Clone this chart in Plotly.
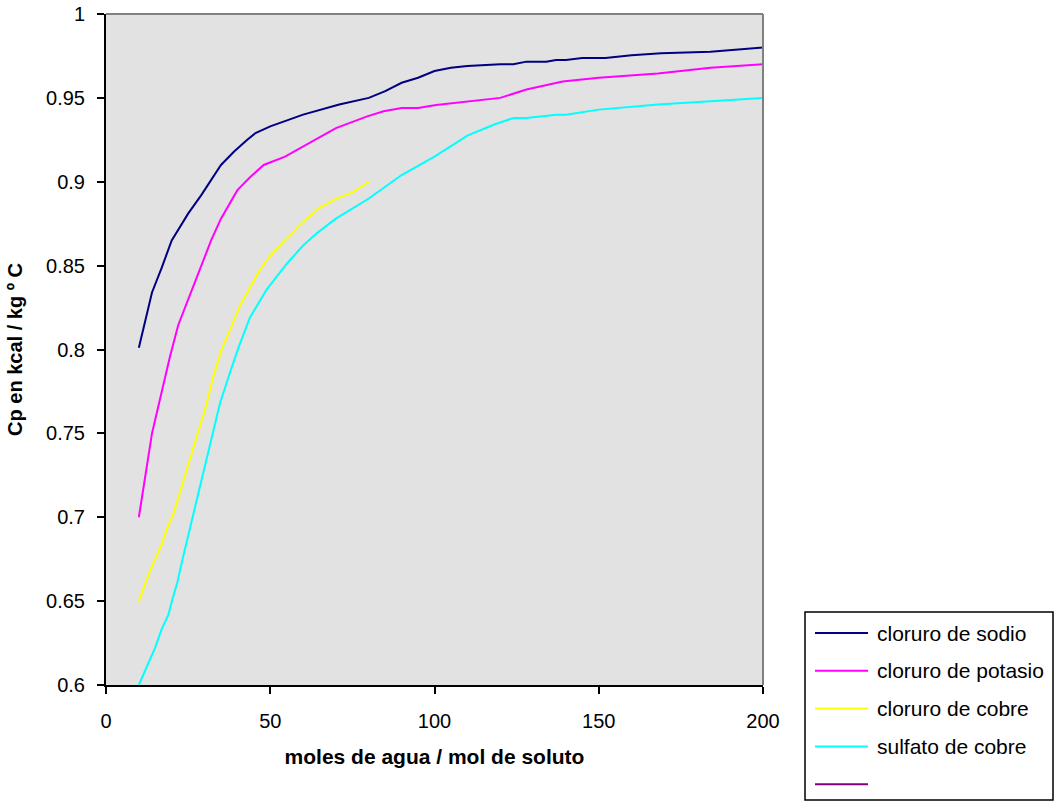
import plotly.graph_objects as go

# Moles of water per mole of solute (x) and heat capacity Cp in kcal/kg ºC (y)
sodio_x = [10, 12, 14, 17, 20, 25, 29, 35, 39, 43, 45.5, 50, 60, 71, 80, 85, 90, 95,
           100, 105, 110, 120, 124, 128, 134, 137, 140, 145, 152, 160, 169, 184, 200]
sodio_y = [0.801, 0.817, 0.834, 0.849, 0.865, 0.881, 0.892, 0.910, 0.918, 0.925, 0.929,
           0.933, 0.940, 0.946, 0.950, 0.954, 0.959, 0.962, 0.966, 0.968, 0.969, 0.970,
           0.970, 0.9716, 0.9716, 0.9726, 0.9726, 0.9738, 0.9738, 0.9754, 0.9766, 0.9775, 0.980]

potasio_x = [10, 12, 14, 16.4, 19.5, 22, 25.6, 29, 32, 35, 40, 44, 48, 54.5, 60, 70, 79.5,
             84.5, 90, 95, 100.5, 110, 120, 128, 139, 150, 168, 184, 200]
potasio_y = [0.700, 0.724, 0.750, 0.770, 0.796, 0.8146, 0.8325, 0.849, 0.865, 0.878, 0.895,
             0.903, 0.910, 0.915, 0.921, 0.932, 0.939, 0.942, 0.944, 0.944, 0.9458, 0.9477,
             0.950, 0.955, 0.9597, 0.962, 0.9646, 0.968, 0.970]

cloruro_cobre_x = [10, 13.4, 17, 18.5, 20.7, 25, 27.6, 30, 32.7, 35, 38, 41, 47, 50, 55, 59,
                   64.6, 69.7, 75.3, 80]
cloruro_cobre_y = [0.650, 0.668, 0.684, 0.693, 0.703, 0.732, 0.748, 0.763, 0.784, 0.799,
                   0.813, 0.827, 0.848, 0.856, 0.866, 0.874, 0.884, 0.8895, 0.894, 0.900]

sulfato_cobre_x = [10, 12.4, 14.9, 16.9, 19, 20.5, 21.7, 23.3, 25.6, 28, 30.4, 32.7, 34.7,
                   37.7, 40.3, 43.8, 49, 55, 60, 64.6, 70, 80, 90, 100, 110, 118, 124, 128,
                   133, 137, 140, 150, 168, 184, 200]
sulfato_cobre_y = [0.600, 0.611, 0.622, 0.633, 0.642, 0.653, 0.661, 0.675, 0.694, 0.712,
                   0.732, 0.752, 0.768, 0.786, 0.801, 0.819, 0.836, 0.851, 0.862, 0.870,
                   0.878, 0.890, 0.904, 0.915, 0.9275, 0.934, 0.938, 0.938, 0.939, 0.940,
                   0.940, 0.943, 0.946, 0.948, 0.950]

series_names = ["cloruro de sodio", "cloruro de potasio", "cloruro de cobre",
                "sulfato de cobre", ""]
series_colors = ["#000080", "#FF00FF", "#FFFF00", "#00FFFF", "#800080"]
series_x = [sodio_x, potasio_x, cloruro_cobre_x, sulfato_cobre_x, []]
series_y = [sodio_y, potasio_y, cloruro_cobre_y, sulfato_cobre_y, []]

x_range = [0, 200]
y_range = [0.6, 1.0]
x_title = "moles de agua / mol de soluto"
y_title = "Cp en kcal / kg º C"

FONT = "Liberation Sans, Arial, sans-serif"

# Page layout in pixels
W, H = 1057, 803
ML, MR, MT, MB = 106, 294, 14, 118
PW, PH = W - ML - MR, H - MT - MB


def paper_x(px):
    return (px - ML) / PW


def paper_y(py):
    return (H - MB - py) / PH


fig = go.Figure()
for name, color, xs, ys in zip(series_names, series_colors, series_x, series_y):
    fig.add_trace(go.Scatter(x=xs, y=ys, mode="lines", name=name,
                             line=dict(color=color, width=2), showlegend=False))

# Grey frame on the top and right of the plotting area
shapes = [
    dict(type="line", xref="paper", yref="paper", x0=0, x1=1, y0=1, y1=1,
         line=dict(color="#808080", width=2), layer="above"),
    dict(type="line", xref="paper", yref="paper", x0=1, x1=1, y0=0, y1=1,
         line=dict(color="#808080", width=2), layer="above"),
]

# Legend box with one row per series
box_l, box_r, box_t, box_b = 805, 1053, 612, 800
shapes.append(dict(type="rect", xref="paper", yref="paper",
                   x0=paper_x(box_l), x1=paper_x(box_r),
                   y0=paper_y(box_b), y1=paper_y(box_t),
                   line=dict(color="black", width=1.5), fillcolor="white", layer="above"))
annotations = []
row0, row_step = 633, 37.8
for i, (name, color) in enumerate(zip(series_names, series_colors)):
    ry = row0 + i * row_step
    shapes.append(dict(type="line", xref="paper", yref="paper",
                       x0=paper_x(815), x1=paper_x(868),
                       y0=paper_y(ry), y1=paper_y(ry),
                       line=dict(color=color, width=2), layer="above"))
    if name:
        annotations.append(dict(xref="paper", yref="paper", x=paper_x(875), y=paper_y(ry),
                                xanchor="left", yanchor="middle", text=name,
                                showarrow=False, font=dict(family=FONT, size=21, color="black")))

fig.update_layout(
    width=W, height=H,
    margin=dict(l=ML, r=MR, t=MT, b=MB, pad=0),
    paper_bgcolor="white",
    plot_bgcolor="#E2E2E2",
    font=dict(family=FONT, size=20, color="black"),
    showlegend=False,
    shapes=shapes,
    annotations=annotations,
)

fig.update_xaxes(
    range=x_range, dtick=50, tick0=0, automargin=False,
    showgrid=False, zeroline=False,
    showline=True, linecolor="black", linewidth=2,
    ticks="outside", ticklen=7, tickwidth=2, tickcolor="black",
    ticklabelstandoff=10,
    tickfont=dict(family=FONT, size=20, color="black"),
    title=dict(text=f"<b>{x_title}</b>", standoff=18,
               font=dict(family=FONT, size=21, color="black")),
)
fig.update_yaxes(
    range=y_range, dtick=0.05, tick0=0.6, automargin=False,
    showgrid=False, zeroline=False,
    showline=True, linecolor="black", linewidth=2,
    ticks="outside", ticklen=7, tickwidth=2, tickcolor="black",
    ticklabelstandoff=8,
    tickfont=dict(family=FONT, size=20, color="black"),
    title=dict(text=f"<b>{y_title}</b>", standoff=18,
               font=dict(family=FONT, size=20, color="black")),
)

fig.write_html("out.html")
